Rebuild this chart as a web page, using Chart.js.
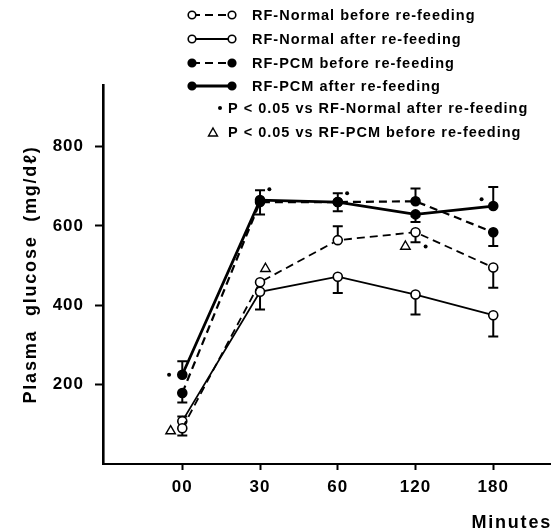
<!DOCTYPE html>
<html><head><meta charset="utf-8">
<script src="https://cdn.jsdelivr.net/npm/chart.js@4"></script>
<style>html,body{margin:0;padding:0;background:#fff}#wrap{width:560px;height:531px}</style>
</head><body><div id="wrap"><canvas id="c" width="560" height="531"></canvas></div>
<script>
// ---- data ----
const xLabels = ['00', '30', '60', '120', '180'];
const xIndex = [0, 1, 2, 3, 4];
const yTicks = [200, 400, 600, 800];
const xTitle = 'Minutes';
const yTitle = 'Plasma  glucose  (mg/d\u2113)';

const seriesNames = ['RF-Normal before re-feeding', 'RF-Normal after re-feeding', 'RF-PCM before re-feeding', 'RF-PCM after re-feeding'];
const sigNames = ['P < 0.05 vs RF-Normal after re-feeding', 'P < 0.05 vs RF-PCM before re-feeding'];

const normalBefore = [90, 458, 564, 584, 495];
const normalAfter  = [108, 434, 472, 427, 375];
const pcmBefore    = [179, 660, 660, 662, 584];
const pcmAfter     = [225, 665, 660, 629, 650];

// one-sided SEM bars (upward / downward extent)
const normalBeforeUp   = [0, 0, 35, 0, 0];
const normalBeforeDown = [18, 0, 0, 25, 51];
const normalAfterUp    = [12, 0, 0, 0, 0];
const normalAfterDown  = [0, 45, 41, 50, 54];
const pcmBeforeUp      = [0, 0, 0, 32, 0];
const pcmBeforeDown    = [24, 31, 23, 0, 35];
const pcmAfterUp       = [34, 25, 22, 0, 48];
const pcmAfterDown     = [0, 0, 0, 19, 0];

// significance marks (x in time-index units, y in mg/dl)
const dotX = [-0.17, 1.12, 2.12, 3.13, 3.85];
const dotY = [225, 692, 682, 548, 667];
const triX = [-0.15, 1.07, 2.87];
const triY = [83, 492, 548];

// ---- helpers ----
const pts = (ys) => ys.map((y, i) => ({x: xIndex[i], y}));
const xy = (xs, ys) => xs.map((x, i) => ({x, y: ys[i]}));
const FONT = '"Liberation Sans", Arial, Helvetica, sans-serif';

function lineDs(label, data, dashed, filled, width, up, down) {
  return {
    label, data: pts(data), showLine: true, borderColor: '#000', borderWidth: width,
    borderDash: dashed ? [8, 5] : [], pointStyle: 'circle', pointRadius: 4.5,
    pointBorderWidth: 1.6, pointBackgroundColor: filled ? '#000' : '#fff', pointBorderColor: '#000',
    tension: 0, errUp: up, errDown: down
  };
}

const spacing = {
  id: 'spacing',
  beforeDraw(chart) { try { chart.ctx.letterSpacing = '1px'; } catch (e) {} },
  afterDraw(chart) { try { chart.ctx.letterSpacing = '0px'; } catch (e) {} }
};

const errorBars = {
  id: 'errorBars',
  beforeDatasetsDraw(chart) {
    const ctx = chart.ctx, xs = chart.scales.x, ys = chart.scales.y;
    ctx.save();
    ctx.strokeStyle = '#000'; ctx.lineWidth = 2; ctx.setLineDash([]);
    chart.data.datasets.forEach(ds => {
      if (!ds.errUp) return;
      ds.data.forEach((p, i) => {
        const px = xs.getPixelForValue(p.x), py = ys.getPixelForValue(p.y);
        [[ds.errUp[i], 1], [ds.errDown[i], -1]].forEach(([e, s]) => {
          if (!e) return;
          const ey = ys.getPixelForValue(p.y + s * e);
          ctx.beginPath(); ctx.moveTo(px, py); ctx.lineTo(px, ey);
          ctx.moveTo(px - 5, ey); ctx.lineTo(px + 5, ey); ctx.stroke();
        });
      });
    });
    ctx.restore();
  }
};

const textPlugin = {
  id: 'customText',
  afterDraw(chart) {
    const ctx = chart.ctx, area = chart.chartArea;
    ctx.save();
    ctx.fillStyle = '#000';
    // axis titles
    ctx.font = 'bold 18px ' + FONT;
    try { ctx.letterSpacing = '1.8px'; } catch (e) {}
    ctx.textBaseline = 'middle';
    ctx.textAlign = 'right';
    ctx.fillText(xTitle, area.right + 2, 523);
    ctx.save();
    ctx.translate(31, (area.top + area.bottom) / 2);
    ctx.rotate(-Math.PI / 2);
    ctx.textAlign = 'center';
    ctx.fillText(yTitle, 0, 0);
    ctx.restore();
    // legend
    ctx.font = 'bold 14.5px ' + FONT;
    try { ctx.letterSpacing = '1px'; } catch (e) {}
    ctx.textAlign = 'left';
    const rows = [15, 39, 63, 86];
    chart.data.datasets.slice(0, 4).forEach((ds, i) => {
      const y = rows[i];
      ctx.strokeStyle = '#000'; ctx.lineWidth = ds.borderWidth;
      ctx.setLineDash(ds.borderDash);
      ctx.beginPath(); ctx.moveTo(192, y); ctx.lineTo(232, y); ctx.stroke();
      ctx.setLineDash([]); ctx.lineWidth = 1.6;
      [192, 232].forEach(x => {
        ctx.beginPath(); ctx.arc(x, y, 3.8, 0, Math.PI * 2);
        ctx.fillStyle = ds.pointBackgroundColor; ctx.fill(); ctx.stroke();
      });
      ctx.fillStyle = '#000';
      ctx.fillText(ds.label, 252, y + 1);
    });
    ctx.beginPath(); ctx.arc(220, 108, 2, 0, Math.PI * 2); ctx.fill();
    ctx.fillText(sigNames[0], 228, 109);
    ctx.lineWidth = 1.4;
    ctx.beginPath(); ctx.moveTo(213, 128); ctx.lineTo(217.5, 136); ctx.lineTo(208.5, 136); ctx.closePath(); ctx.stroke();
    ctx.fillText(sigNames[1], 228, 133);
    ctx.restore();
  }
};

const chart = new Chart(document.getElementById('c'), {
  type: 'scatter',
  data: {
    datasets: [
      lineDs(seriesNames[0], normalBefore, true, false, 1.8, normalBeforeUp, normalBeforeDown),
      lineDs(seriesNames[1], normalAfter, false, false, 1.8, normalAfterUp, normalAfterDown),
      lineDs(seriesNames[2], pcmBefore, true, true, 2.2, pcmBeforeUp, pcmBeforeDown),
      lineDs(seriesNames[3], pcmAfter, false, true, 2.8, pcmAfterUp, pcmAfterDown),
      { label: 'sig-dot', data: xy(dotX, dotY), showLine: false, pointStyle: 'circle', pointRadius: 2,
        pointBackgroundColor: '#000', pointBorderColor: '#000', pointBorderWidth: 0 },
      { label: 'sig-tri', data: xy(triX, triY), showLine: false, pointStyle: 'triangle', pointRadius: 5.5,
        pointBackgroundColor: 'rgba(255,255,255,0)', pointBorderColor: '#000', pointBorderWidth: 1.4 }
    ]
  },
  options: {
    responsive: false, animation: false,
    layout: { padding: { left: 0, right: 10, top: 85, bottom: 0 } },
    plugins: { legend: { display: false }, tooltip: { enabled: false } },
    scales: {
      x: {
        type: 'linear', min: -1.02, max: 4.73,
        afterFit(s) { s.height = 67; },
        afterBuildTicks(s) { s.ticks = xIndex.map(v => ({value: v})); },
        ticks: { callback: (v) => xLabels[v], color: '#000', font: { family: FONT, size: 17, weight: 'bold' }, padding: 7, maxRotation: 0, autoSkip: false },
        grid: { drawOnChartArea: false, tickLength: 6, tickColor: '#000', tickWidth: 2 },
        border: { color: '#000', width: 2 }
      },
      y: {
        min: 0, max: 955,
        afterFit(s) { s.width = 103; },
        afterBuildTicks(s) { s.ticks = yTicks.map(v => ({value: v})); },
        ticks: { color: '#000', font: { family: FONT, size: 17, weight: 'bold' }, padding: 11 },
        grid: { drawOnChartArea: false, tickLength: 8, tickColor: '#000', tickWidth: 2 },
        border: { color: '#000', width: 2.6 }
      }
    }
  },
  plugins: [spacing, errorBars, textPlugin]
});
</script></body></html>
